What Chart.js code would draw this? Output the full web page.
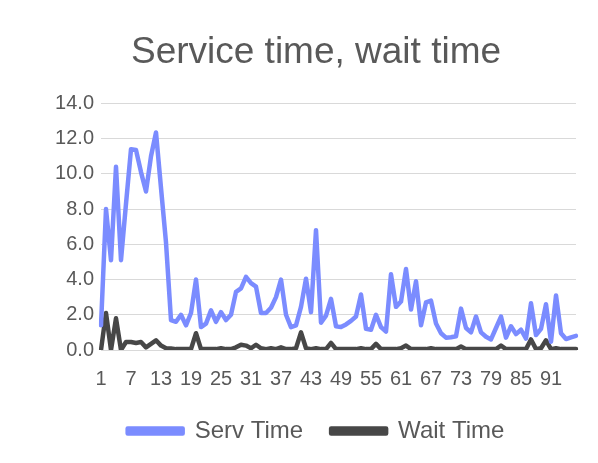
<!DOCTYPE html>
<html>
<head>
<meta charset="utf-8">
<title>Service time, wait time</title>
<script src="https://cdn.jsdelivr.net/npm/chart.js@4.4.1/dist/chart.umd.min.js"></script>
<style>
  html, body { margin: 0; padding: 0; background: #ffffff; }
  canvas { display: block; }
</style>
</head>
<body>
<canvas id="tiemposChart" width="598" height="463"></canvas>
<script>
// 1. DATOS
const categorias = [];
for (let i = 1; i <= 96; i++) categorias.push(String(i));

const servTime = [
  1.4, 8.0, 5.1, 10.4, 5.1, 8.3, 11.4, 11.35, 10.1, 9.0,
  11.0, 12.35, 9.2, 6.1, 1.7, 1.6, 2.0, 1.4, 2.1, 4.0,
  1.3, 1.5, 2.25, 1.6, 2.15, 1.7, 2.0, 3.3, 3.5, 4.15,
  3.8, 3.6, 2.1, 2.1, 2.4, 3.0, 4.0, 2.0, 1.3, 1.4,
  2.45, 4.05, 2.15, 6.8, 1.55, 1.95, 2.9, 1.35, 1.3, 1.45,
  1.65, 1.9, 3.15, 1.2, 1.15, 2.0, 1.3, 1.05, 4.3, 2.45,
  2.75, 4.6, 2.3, 3.9, 1.4, 2.7, 2.8, 1.5, 0.95, 0.7,
  0.72, 0.78, 2.35, 1.25, 1.0, 1.9, 1.0, 0.75, 0.6, 1.25,
  1.9, 0.7, 1.35, 0.9, 1.15, 0.65, 2.65, 0.85, 1.2, 2.6,
  0.47, 3.1, 0.95, 0.62, 0.72, 0.8
];

const waitTime = [
  0.0, 2.1, 0.0, 1.8, 0.0, 0.45, 0.45, 0.4, 0.45, 0.15,
  0.35, 0.55, 0.25, 0.1, 0.08, 0.05, 0.05, 0.05, 0.05, 0.95,
  0.05, 0.05, 0.05, 0.05, 0.1, 0.05, 0.05, 0.15, 0.3, 0.25,
  0.1, 0.3, 0.1, 0.05, 0.1, 0.05, 0.15, 0.05, 0.05, 0.1,
  1.0, 0.1, 0.05, 0.1, 0.05, 0.05, 0.4, 0.05, 0.05, 0.05,
  0.05, 0.05, 0.1, 0.05, 0.05, 0.35, 0.05, 0.05, 0.05, 0.05,
  0.1, 0.25, 0.05, 0.05, 0.05, 0.05, 0.1, 0.05, 0.05, 0.05,
  0.05, 0.05, 0.2, 0.05, 0.05, 0.05, 0.05, 0.05, 0.05, 0.05,
  0.25, 0.05, 0.05, 0.05, 0.05, 0.05, 0.6, 0.05, 0.1, 0.55,
  0.05, 0.1, 0.05, 0.05, 0.05, 0.05
];

const ticksY = [0, 2, 4, 6, 8, 10, 12, 14];

const gris = '#595959';
const fuente = 'Liberation Sans, Arial, sans-serif';

// 2. GRAFICO
const ctx = document.getElementById('tiemposChart').getContext('2d');
const tiemposChart = new Chart(ctx, {
    type: 'line',
    data: {
        labels: categorias,
        datasets: [
            {
                label: 'Serv Time',
                data: servTime,
                borderColor: '#7b8cff',
                backgroundColor: '#7b8cff',
                borderWidth: 4.5,
                pointRadius: 0,
                tension: 0,
                borderJoinStyle: 'round',
                borderCapStyle: 'round'
            },
            {
                label: 'Wait Time',
                data: waitTime,
                borderColor: '#474747',
                backgroundColor: '#474747',
                borderWidth: 4.5,
                pointRadius: 0,
                tension: 0,
                borderJoinStyle: 'round',
                borderCapStyle: 'round'
            }
        ]
    },
    options: {
        responsive: false,
        animation: false,
        layout: { padding: { left: 56, right: 22, top: 0, bottom: 10 } },
        plugins: {
            title: {
                display: true,
                text: 'Service time, wait time',
                color: gris,
                font: { family: fuente, size: 37, weight: 'normal' },
                padding: { top: 31, bottom: 28 }
            },
            legend: {
                position: 'bottom',
                labels: {
                    color: gris,
                    font: { family: fuente, size: 24 },
                    boxWidth: 55,
                    boxHeight: 5,
                    padding: 28
                }
            },
            tooltip: { enabled: false }
        },
        scales: {
            x: {
                offset: false,
                afterFit: (scale) => { scale.height = 41; },
                grid: { display: false, drawTicks: false },
                border: { color: '#d9d9d9' },
                ticks: {
                    color: gris,
                    font: { family: fuente, size: 20 },
                    autoSkip: false,
                    maxRotation: 0,
                    padding: 17,
                    callback: (v, i) => (i % 6 === 0 ? categorias[i] : '')
                }
            },
            y: {
                min: 0,
                max: 14,
                afterFit: (scale) => { scale.width = 45; },
                afterBuildTicks: (scale) => { scale.ticks = ticksY.map(v => ({ value: v })); },
                grid: { color: '#d9d9d9', drawTicks: false },
                border: { display: false },
                ticks: {
                    color: gris,
                    font: { family: fuente, size: 20 },
                    padding: 7,
                    callback: (v) => v.toFixed(1)
                }
            }
        }
    }
});
</script>
</body>
</html>
